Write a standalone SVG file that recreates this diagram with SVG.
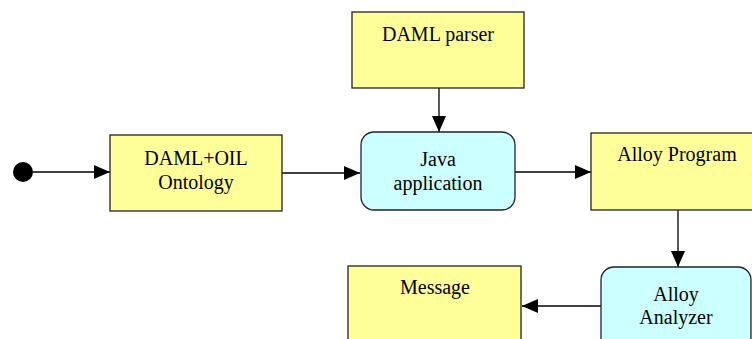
<svg xmlns="http://www.w3.org/2000/svg" width="752" height="339" viewBox="0 0 752 339">
<style>
.box{fill:#FFFF99;stroke:#222;stroke-width:1.3}
.act{fill:#CCFFFF;stroke:#222;stroke-width:1.3}
.lbl{font-family:'Liberation Serif','Times New Roman','DejaVu Serif',serif;font-size:20px;fill:#000;text-anchor:middle}
.con{stroke:#000;stroke-width:1.3;fill:none;marker-end:url(#ah)}
</style>
<defs>
<marker id="ah" markerWidth="16" markerHeight="14" refX="16" refY="7" orient="auto" markerUnits="userSpaceOnUse">
<path d="M0,0 L16,7 L0,14 Z" fill="#000"/>
</marker>
</defs>
<rect width="752" height="339" fill="#fff"/>
<g id="connectors">
<line class="con" x1="33" y1="172" x2="110" y2="172"/>
<line class="con" x1="282" y1="173" x2="360" y2="173"/>
<line class="con" x1="439" y1="88" x2="439" y2="132"/>
<line class="con" x1="515" y1="172" x2="591" y2="172"/>
<line class="con" x1="678" y1="210" x2="678" y2="267"/>
<line class="con" x1="601" y1="306" x2="522" y2="306"/>
</g>
<g id="start"><circle cx="23" cy="172" r="10" fill="#000"/></g>
<g id="ontology">
<rect class="box" x="110" y="135" width="172" height="76"/>
<text class="lbl" x="196" y="165">DAML+OIL</text>
<text class="lbl" x="196" y="189">Ontology</text>
</g>
<g id="parser">
<rect class="box" x="352" y="12" width="172" height="76"/>
<text class="lbl" x="438" y="41">DAML parser</text>
</g>
<g id="java">
<rect class="act" x="361" y="132" width="154" height="78" rx="13"/>
<text class="lbl" x="438" y="166">Java</text>
<text class="lbl" x="438" y="190">application</text>
</g>
<g id="alloyprogram">
<rect class="box" x="591" y="133" width="170" height="77"/>
<text class="lbl" x="677" y="161">Alloy Program</text>
</g>
<g id="analyzer">
<rect class="act" x="601" y="267" width="150" height="90" rx="13"/>
<text class="lbl" x="676" y="301">Alloy</text>
<text class="lbl" x="676" y="324">Analyzer</text>
</g>
<g id="message">
<rect class="box" x="348" y="266" width="173" height="90"/>
<text class="lbl" x="435" y="294">Message</text>
</g>
</svg>
